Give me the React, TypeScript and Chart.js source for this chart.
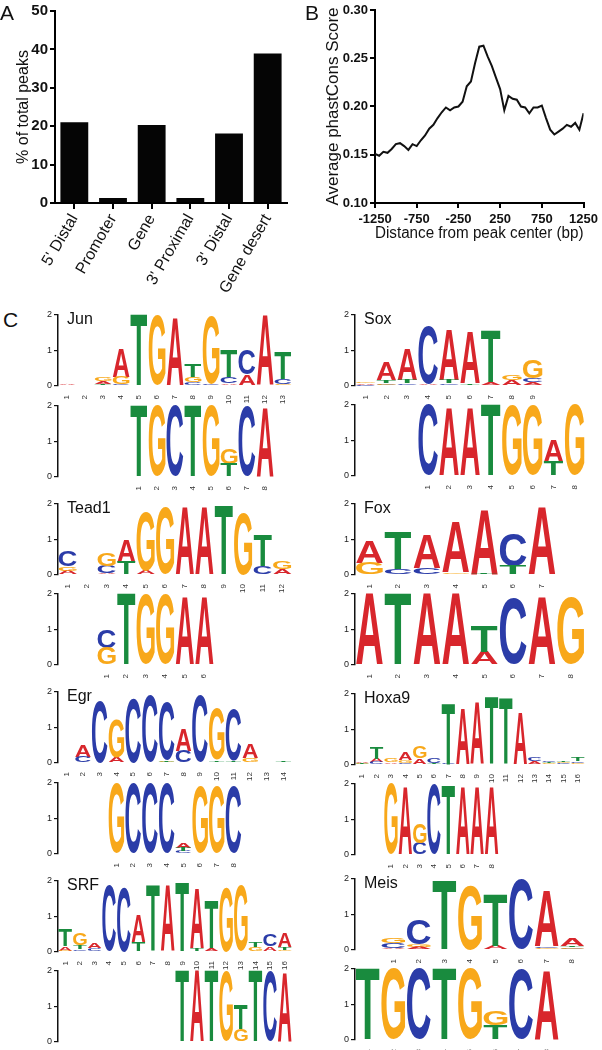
import React, { useEffect, useRef } from "react";
import { Chart, registerables } from "chart.js";
Chart.register(...registerables);

const SANS = '"Liberation Sans", Arial, Helvetica, sans-serif';
const NARROW = '"Liberation Sans Narrow", "Liberation Sans", Arial, sans-serif';
Chart.defaults.font.family = SANS;

// ---------- Panel A ----------
const regionLabels = ["5' Distal", "Promoter", "Gene", "3' Proximal", "3' Distal", "Gene desert"];
const regionPercent = [21.0, 1.3, 20.3, 1.3, 18.1, 38.9];

// ---------- Panel B ----------
const distanceBp = [
  -1250, -1200, -1150, -1100, -1050, -1000, -950, -900, -850, -800, -750, -700, -650, -600, -550, -500, -450,
  -400, -350, -300, -250, -200, -150, -100, -50, 0, 50, 100, 150, 200, 250, 300, 350, 400, 450, 500, 550, 600,
  650, 700, 750, 800, 850, 900, 950, 1000, 1050, 1100, 1150, 1200, 1250,
];
const phastCons = [
  0.151, 0.149, 0.153, 0.152, 0.156, 0.161, 0.162, 0.159, 0.155, 0.161, 0.159, 0.165, 0.17, 0.177, 0.181, 0.188,
  0.194, 0.199, 0.196, 0.199, 0.2, 0.205, 0.221, 0.226, 0.245, 0.262, 0.263, 0.252, 0.242, 0.23, 0.218, 0.196,
  0.211, 0.208, 0.207, 0.2, 0.199, 0.193, 0.199, 0.199, 0.201, 0.188, 0.176, 0.171, 0.174, 0.177, 0.181, 0.179,
  0.183, 0.176, 0.193,
];

// ---------- Panel C : letter heights in bits, per position [A, C, G, T] ----------
const LETTERS = ["A", "C", "G", "T"];
const LETTER_COLORS = ["#d8262c", "#2b3ca8", "#f8a81a", "#198b3e"];

const junTop = [
  [0.02, 0.01, 0.01, 0.01], [0.01, 0.01, 0.01, 0.01], [0.07, 0.03, 0.1, 0.03], [0.8, 0.03, 0.2, 0.02],
  [0, 0, 0, 2.0], [0, 0, 1.95, 0], [1.9, 0, 0, 0], [0.03, 0.08, 0.15, 0.35], [0, 0.05, 1.9, 0],
  [0.05, 0.18, 0.02, 0.75], [0.32, 0.68, 0, 0], [1.98, 0, 0, 0], [0.02, 0.15, 0.02, 0.75],
];
const junBottom = [
  [0, 0, 0, 2.0], [0, 0, 2.0, 0], [0, 2.0, 0, 0], [0, 0, 0, 2.0], [0, 0, 2.0, 0], [0, 0, 0.42, 0.37],
  [0, 1.95, 0, 0], [1.95, 0, 0, 0],
];
const soxTop = [
  [0.04, 0.02, 0.04, 0.01], [0.5, 0.04, 0.05, 0.07], [0.85, 0.05, 0.03, 0.1], [0.05, 1.6, 0, 0],
  [1.4, 0.05, 0.03, 0.1], [1.45, 0.03, 0, 0.05], [0.1, 0, 0, 1.45], [0.13, 0.03, 0.15, 0], [0.08, 0.1, 0.5, 0.03],
];
const soxBottom = [
  [0, 2.0, 0, 0], [1.9, 0, 0, 0], [1.9, 0, 0, 0], [0, 0, 0, 2.0], [0, 0, 1.95, 0], [0, 0, 1.95, 0],
  [0.6, 0, 0, 0.4], [0, 0, 2.0, 0],
];
const tead1Top = [
  [0.1, 0.45, 0.12, 0.02], [0, 0, 0, 0], [0.03, 0.2, 0.35, 0.02], [0.6, 0, 0, 0.37], [0.12, 0, 1.65, 0],
  [0, 0, 1.9, 0], [1.9, 0, 0, 0], [1.9, 0, 0, 0], [0, 0, 0, 1.95], [0, 0, 1.75, 0], [0, 0.25, 0, 0.85],
  [0.13, 0.03, 0.2, 0],
];
const tead1Bottom = [
  [0, 0.5, 0.48, 0], [0, 0, 0, 2.0], [0, 0, 1.95, 0], [0, 0, 1.95, 0], [1.9, 0, 0, 0], [1.9, 0, 0, 0],
];
const foxTop = [
  [0.6, 0, 0.33, 0], [0.03, 0.15, 0, 1.05], [0.95, 0.17, 0.02, 0], [1.4, 0, 0.05, 0.02], [1.8, 0, 0.02, 0.02],
  [0, 0.9, 0, 0.25], [1.9, 0, 0, 0],
];
const foxBottom = [
  [2.0, 0, 0, 0], [0, 0, 0, 2.0], [2.0, 0, 0, 0], [2.0, 0, 0, 0], [0.36, 0, 0, 0.73], [0, 1.85, 0, 0],
  [1.9, 0, 0, 0], [0, 0, 1.9, 0],
];
const egrTop = [
  [0, 0, 0, 0], [0.32, 0.18, 0, 0], [0, 1.75, 0, 0], [0.14, 0, 1.05, 0], [0, 1.8, 0, 0], [0, 1.9, 0, 0],
  [0.02, 1.6, 0.02, 0.05], [0.6, 0.33, 0, 0], [0, 1.9, 0, 0], [0.03, 0, 1.45, 0.05], [0.02, 1.45, 0, 0.05],
  [0.4, 0.03, 0.1, 0], [0, 0, 0, 0], [0.02, 0, 0, 0.03],
];
const egrBottom = [
  [0, 0, 1.95, 0], [0, 1.95, 0, 0], [0, 1.95, 0, 0], [0, 1.95, 0, 0], [0.15, 0.08, 0, 0.1], [0, 0, 1.9, 0],
  [0, 0, 1.9, 0], [0, 1.9, 0, 0],
];
const hoxa9Top = [
  [0.03, 0.02, 0.02, 0.02], [0.1, 0.08, 0, 0.32], [0.05, 0.03, 0.1, 0], [0.22, 0.04, 0.08, 0.02],
  [0.15, 0.03, 0.32, 0], [0, 0.13, 0.03, 0.03], [0.02, 0.02, 0, 1.7], [1.55, 0, 0, 0.02], [1.75, 0, 0, 0],
  [0, 0, 0, 1.9], [0, 0, 0, 1.85], [1.45, 0, 0.02, 0], [0.08, 0.12, 0.03, 0], [0.02, 0.05, 0.03, 0.04],
  [0.03, 0.03, 0.03, 0.05], [0.02, 0.05, 0.03, 0.12],
];
const hoxa9Bottom = [
  [0, 0, 2.0, 0], [1.9, 0, 0, 0], [0, 0.33, 0.55, 0], [0, 1.95, 0, 0], [0, 0, 0, 1.95], [1.9, 0, 0, 0],
  [1.9, 0, 0, 0], [1.9, 0, 0, 0],
];
const srfTop = [
  [0.12, 0.02, 0.02, 0.45], [0.03, 0.05, 0.33, 0.1], [0.13, 0.08, 0.02, 0], [0, 1.85, 0, 0], [0, 1.8, 0, 0],
  [0.75, 0, 0, 0.28], [0, 0, 0, 1.85], [1.85, 0, 0, 0], [0, 0, 0, 1.95], [1.65, 0.02, 0, 0.08],
  [0.1, 0, 0, 1.35], [0, 0, 1.8, 0], [0, 0, 1.85, 0], [0.03, 0, 0.1, 0.13], [0.12, 0.32, 0, 0.03],
  [0.4, 0.03, 0.03, 0.08],
];
const srfBottom = [
  [0, 0, 0, 2.0], [2.0, 0, 0, 0], [0, 0, 0, 2.0], [0, 0, 1.95, 0], [0, 0, 0.36, 0.68], [0, 0, 0, 2.0],
  [0, 1.95, 0, 0], [1.95, 0, 0, 0],
];
const meisTop = [
  [0.03, 0.15, 0.16, 0.02], [0.07, 0.7, 0.08, 0.02], [0, 0, 0, 1.95], [0, 0, 1.8, 0], [0.12, 0, 0, 1.45],
  [0, 1.95, 0, 0], [1.55, 0.05, 0.03, 0.02], [0.2, 0.04, 0.04, 0.04],
];
const meisBottom = [
  [0, 0, 0, 2.0], [0, 0, 2.0, 0], [0, 2.0, 0, 0], [0, 0, 0, 2.0], [0, 0, 2.0, 0], [0, 0, 0.41, 0.4],
  [0, 1.95, 0, 0], [1.95, 0, 0, 0],
];

// motif name, top logo, top offset, bottom logo, bottom offset
const motifs = [
  { name: "Jun", top: junTop, topOffset: 0, bottom: junBottom, bottomOffset: 4 },
  { name: "Sox", top: soxTop, topOffset: 0, bottom: soxBottom, bottomOffset: 3 },
  { name: "Tead1", top: tead1Top, topOffset: 0, bottom: tead1Bottom, bottomOffset: 2 },
  { name: "Fox", top: foxTop, topOffset: 0, bottom: foxBottom, bottomOffset: 0 },
  { name: "Egr", top: egrTop, topOffset: 0, bottom: egrBottom, bottomOffset: 3 },
  { name: "Hoxa9", top: hoxa9Top, topOffset: 0, bottom: hoxa9Bottom, bottomOffset: 2 },
  { name: "SRF", top: srfTop, topOffset: 0, bottom: srfBottom, bottomOffset: 8 },
  { name: "Meis", top: meisTop, topOffset: 1, bottom: meisBottom, bottomOffset: 0 },
];

// layout (pixels): axis x and y of the "2" tick for top and bottom logos
const motifLayout = [
  { axisX: 58, plotW: 234, topY: 313, bottomY: 404 },
  { axisX: 355, plotW: 230, topY: 313, bottomY: 403 },
  { axisX: 58, plotW: 234, topY: 502, bottomY: 592 },
  { axisX: 355, plotW: 230, topY: 502, bottomY: 592 },
  { axisX: 58, plotW: 234, topY: 690, bottomY: 781 },
  { axisX: 355, plotW: 230, topY: 692, bottomY: 782 },
  { axisX: 58, plotW: 234, topY: 879, bottomY: 969 },
  { axisX: 355, plotW: 230, topY: 877, bottomY: 967 },
];

function drawGlyph(ctx: CanvasRenderingContext2D, ch: string, color: string, x: number, y: number, w: number, h: number) {
  if (w <= 0 || h <= 0.25) return;
  ctx.save();
  ctx.font = 'bold 100px "Liberation Sans", Arial, sans-serif';
  ctx.textBaseline = "alphabetic";
  ctx.textAlign = "left";
  const m = ctx.measureText(ch);
  const gw = m.actualBoundingBoxLeft + m.actualBoundingBoxRight;
  const gh = m.actualBoundingBoxAscent + m.actualBoundingBoxDescent;
  ctx.translate(x, y);
  ctx.scale(w / gw, h / gh);
  ctx.fillStyle = color;
  ctx.fillText(ch, m.actualBoundingBoxLeft, m.actualBoundingBoxAscent);
  ctx.restore();
}

const letterPlugin = {
  id: "logoLetters",
  afterDatasetsDraw(chart: any) {
    const ctx = chart.ctx;
    chart.data.datasets.forEach((ds: any, i: number) => {
      const meta = chart.getDatasetMeta(i);
      meta.data.forEach((el: any, j: number) => {
        const raw = ds.data[j];
        if (!raw) return;
        const p = el.getProps(["x", "y", "base", "width"], true);
        const top = Math.min(p.y, p.base);
        const h = Math.abs(p.base - p.y);
        drawGlyph(ctx, ds.label, ds.letterColor, p.x - p.width / 2, top, p.width, h);
      });
    });
  },
};

const namePlugin = {
  id: "motifName",
  afterDraw(chart: any, _args: any, opts: any) {
    if (!opts || !opts.text) return;
    const ctx = chart.ctx;
    ctx.save();
    ctx.font = `16px ${SANS}`;
    ctx.fillStyle = "#111";
    ctx.textBaseline = "middle";
    ctx.textAlign = "left";
    ctx.fillText(opts.text, chart.chartArea.left + 9, chart.chartArea.top + 5);
    ctx.restore();
  },
};

function buildLogo(rows: number[][], offset: number, slots: number) {
  const datasets = LETTERS.map((L, k) => ({
    label: L,
    letterColor: LETTER_COLORS[k],
    data: new Array(slots).fill(null) as any[],
  }));
  rows.forEach((row, i) => {
    const order = [0, 1, 2, 3].filter((k) => row[k] > 0).sort((a, b) => row[a] - row[b]);
    let acc = 0;
    order.forEach((k) => {
      datasets[k].data[offset + i] = [acc, acc + row[k]];
      acc += row[k];
    });
  });
  const labels = Array.from({ length: slots }, (_, s) =>
    s >= offset && s < offset + rows.length ? String(s - offset + 1) : ""
  );
  return { labels, datasets };
}

const AXIS_W = 24;
const PAD_TOP = 6;
const PLOT_H = 73;
const XLAB_H = 18;

function Logo(props: { rows: number[][]; offset: number; slots: number; name?: string; axisX: number; y2: number; plotW: number }) {
  const ref = useRef<HTMLCanvasElement>(null);
  const { rows, offset, slots, name, axisX, y2, plotW } = props;
  const width = AXIS_W + plotW + 4;
  const height = PAD_TOP + PLOT_H + XLAB_H;
  useEffect(() => {
    const { labels, datasets } = buildLogo(rows, offset, slots);
    const chart = new Chart(ref.current as HTMLCanvasElement, {
      type: "bar",
      data: {
        labels,
        datasets: datasets.map((d) => ({
          ...d,
          backgroundColor: "rgba(0,0,0,0)",
          borderWidth: 0,
          grouped: false,
          barPercentage: 0.93,
          categoryPercentage: 1,
        })) as any,
      },
      options: {
        responsive: false,
        animation: false,
        devicePixelRatio: 1,
        layout: { padding: { left: 0, right: 4, top: PAD_TOP, bottom: 0 } },
        plugins: { legend: { display: false }, tooltip: { enabled: false }, motifName: { text: name } } as any,
        scales: {
          x: {
            grid: { display: false },
            border: { display: false },
            ticks: { autoSkip: false, minRotation: 90, maxRotation: 90, font: { size: 8, family: SANS }, color: "#333", padding: 1 },
            afterFit: (s: any) => {
              s.height = XLAB_H;
            },
          },
          y: {
            min: 0,
            max: 2,
            ticks: { stepSize: 1, font: { size: 9, family: SANS }, color: "#222", padding: 2 },
            grid: { display: true, drawOnChartArea: false, tickLength: 4, color: "#111", lineWidth: 1.2 },
            border: { display: true, color: "#111", width: 1.5 },
            afterFit: (s: any) => {
              s.width = AXIS_W;
            },
          },
        } as any,
      },
      plugins: [letterPlugin, namePlugin],
    });
    return () => chart.destroy();
  }, []);
  return (
    <canvas
      ref={ref}
      width={width}
      height={height}
      style={{ position: "absolute", left: axisX - AXIS_W, top: y2 - PAD_TOP, width, height }}
    />
  );
}

function PanelA() {
  const ref = useRef<HTMLCanvasElement>(null);
  useEffect(() => {
    const chart = new Chart(ref.current as HTMLCanvasElement, {
      type: "bar",
      data: {
        labels: regionLabels,
        datasets: [
          { data: regionPercent, backgroundColor: "#050505", borderWidth: 0, barPercentage: 0.72, categoryPercentage: 1 },
        ],
      },
      options: {
        responsive: false,
        animation: false,
        devicePixelRatio: 1,
        layout: { padding: { left: 9, right: 13, top: 10, bottom: 0 } },
        plugins: { legend: { display: false }, tooltip: { enabled: false } },
        scales: {
          x: {
            grid: { display: true, drawOnChartArea: false, drawTicks: true, tickLength: 6, offset: false, color: "#000", lineWidth: 2 },
            border: { display: true, color: "#000", width: 2 },
            ticks: { autoSkip: false, minRotation: 60, maxRotation: 60, color: "#111", font: { size: 16, family: SANS }, padding: 2 },
            afterFit: (s: any) => {
              s.height = 92;
            },
          },
          y: {
            min: 0,
            max: 50,
            ticks: { stepSize: 10, color: "#111", font: { size: 15, weight: "bold", family: NARROW }, padding: 2 },
            grid: { display: true, drawOnChartArea: false, tickLength: 5, color: "#000", lineWidth: 2 },
            border: { display: true, color: "#000", width: 2 },
            title: { display: true, text: "% of total peaks", color: "#111", font: { size: 16, family: SANS }, padding: { top: 5, bottom: 0 } },
            afterFit: (s: any) => {
              s.width = 46;
            },
          },
        } as any,
      },
    });
    return () => chart.destroy();
  }, []);
  return <canvas ref={ref} width={300} height={295} style={{ position: "absolute", left: 0, top: 0, width: 300, height: 295 }} />;
}

function PanelB() {
  const ref = useRef<HTMLCanvasElement>(null);
  useEffect(() => {
    const chart = new Chart(ref.current as HTMLCanvasElement, {
      type: "line",
      data: {
        datasets: [
          {
            data: distanceBp.map((d, i) => ({ x: d, y: phastCons[i] })),
            borderColor: "#111",
            borderWidth: 2,
            pointRadius: 0,
            tension: 0,
            fill: false,
          },
        ],
      },
      options: {
        responsive: false,
        animation: false,
        devicePixelRatio: 1,
        layout: { padding: { left: 24, right: 12, top: 10, bottom: 0 } },
        plugins: { legend: { display: false }, tooltip: { enabled: false } },
        scales: {
          x: {
            type: "linear",
            min: -1250,
            max: 1250,
            ticks: { stepSize: 500, color: "#111", font: { size: 13, weight: "bold", family: NARROW }, padding: 4, callback: (v: any) => String(Math.round(Number(v))) },
            grid: { display: true, drawOnChartArea: false, tickLength: 5, color: "#000", lineWidth: 2 },
            border: { display: true, color: "#000", width: 2 },
            title: { display: true, text: "Distance from peak center (bp)", color: "#111", font: { size: 16, family: SANS }, padding: { top: 0, bottom: 4 } },
            afterFit: (s: any) => {
              s.height = 44;
            },
          },
          y: {
            min: 0.1,
            max: 0.3,
            ticks: { stepSize: 0.05, color: "#111", font: { size: 13, weight: "bold", family: NARROW }, padding: 2, callback: (v: any) => Number(v).toFixed(2) },
            grid: { display: true, drawOnChartArea: false, tickLength: 5, color: "#000", lineWidth: 2 },
            border: { display: true, color: "#000", width: 2 },
            title: { display: true, text: "Average phastCons Score", color: "#111", font: { size: 17, family: SANS }, padding: { top: 4, bottom: 0 } },
            afterFit: (s: any) => {
              s.width = 56;
            },
          },
        } as any,
      },
    });
    return () => chart.destroy();
  }, []);
  return <canvas ref={ref} width={307} height={247} style={{ position: "absolute", left: 295, top: 0, width: 307, height: 247 }} />;
}

const panelLetterStyle: React.CSSProperties = {
  position: "absolute",
  fontFamily: SANS,
  fontSize: 21,
  lineHeight: "21px",
  color: "#111",
};

export default function App() {
  return (
    <div style={{ position: "absolute", left: 0, top: 0, width: 602, height: 1050, background: "#fff", overflow: "hidden" }}>
      <PanelA />
      <PanelB />
      <div style={{ ...panelLetterStyle, left: 0, top: 2 }}>A</div>
      <div style={{ ...panelLetterStyle, left: 305, top: 2 }}>B</div>
      <div style={{ ...panelLetterStyle, left: 3, top: 309 }}>C</div>
      {motifs.map((m, i) => {
        const L = motifLayout[i];
        const slots = Math.max(m.topOffset + m.top.length, m.bottomOffset + m.bottom.length);
        return (
          <React.Fragment key={m.name}>
            <Logo rows={m.top} offset={m.topOffset} slots={slots} name={m.name} axisX={L.axisX} y2={L.topY} plotW={L.plotW} />
            <Logo rows={m.bottom} offset={m.bottomOffset} slots={slots} axisX={L.axisX} y2={L.bottomY} plotW={L.plotW} />
          </React.Fragment>
        );
      })}
    </div>
  );
}
